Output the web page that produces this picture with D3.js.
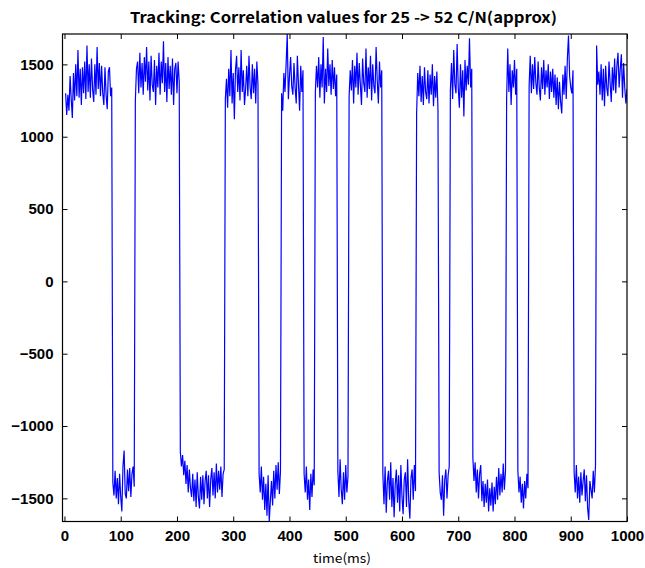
<!DOCTYPE html>
<html>
<head>
<meta charset="utf-8">
<script src="https://cdn.jsdelivr.net/npm/d3@7/dist/d3.min.js"></script>
<style>
  html, body { margin: 0; padding: 0; background: #fff; }
  svg { display: block; }
</style>
</head>
<body>
<div id="chart"></div>
<script>
// Prompt correlation output, one value every 2 ms (t = 2, 4, ..., 1000 ms),
// listed bit by bit (20 ms navigation bits, edges at 4 + 20k ms).
const corr = [
  // 2-84 ms
  1300, 1150, 1290, 1180, 1420, 1260, 1130, 1440, 1250, 1500,
  1280, 1600, 1270, 1470, 1220, 1480, 1300, 1520, 1260, 1630,
  1310, 1500, 1270, 1540, 1330, 1240, 1500, 1290, 1620, 1330,
  1510, 1280, 1490, 1300, 1220, 1480, 1290, 1190, 1450, 1480,
  1280, 1340,
  // 86-124 ms
  -1390, -1480, -1310, -1500, -1360, -1540, -1330, -1490, -1590, -1280,
  -1170, -1470, -1500, -1300, -1450, -1290, -1490, -1330, -1280, -1420,
  // 126-204 ms
  1250, 1470, 1520, 1300, 1580, 1340, 1510, 1290, 1550, 1380,
  1620, 1320, 1520, 1250, 1560, 1360, 1310, 1530, 1220, 1490,
  1340, 1580, 1290, 1520, 1370, 1660, 1310, 1510, 1240, 1550,
  1330, 1490, 1290, 1540, 1220, 1470, 1510, 1300, 1520, 1380,
  // 206-284 ms
  -1180, -1280, -1200, -1340, -1240, -1400, -1270, -1460, -1300, -1430,
  -1490, -1330, -1520, -1370, -1560, -1320, -1490, -1570, -1350, -1510,
  -1340, -1540, -1380, -1310, -1500, -1340, -1560, -1370, -1290, -1480,
  -1320, -1500, -1260, -1460, -1310, -1440, -1280, -1490, -1330, -1300,
  // 286-344 ms
  1260, 1400, 1200, 1470, 1280, 1600, 1230, 1440, 1120, 1460,
  1560, 1310, 1480, 1250, 1600, 1310, 1460, 1220, 1330, 1490,
  1280, 1560, 1340, 1260, 1500, 1300, 1470, 1230, 1520, 1360,
  // 346-384 ms
  -1330, -1460, -1280, -1510, -1350, -1580, -1400, -1620, -1340, -1660,
  -1520, -1380, -1550, -1310, -1500, -1270, -1440, -1250, -1470, -1310,
  // 386-424 ms
  1300, 1180, 1440, 1310, 1500, 1710, 1260, 1420, 1550, 1350,
  1290, 1510, 1340, 1230, 1560, 1360, 1180, 1490, 1310, 1460,
  // 426-444 ms
  -1330, -1460, -1280, -1510, -1370, -1580, -1330, -1490, -1300, -1410,
  // 446-484 ms
  1310, 1490, 1340, 1550, 1270, 1500, 1340, 1690, 1230, 1470,
  1310, 1610, 1350, 1500, 1290, 1530, 1330, 1480, 1280, 1430,
  // 486-504 ms
  -1310, -1490, -1230, -1440, -1540, -1320, -1510, -1270, -1460, -1350,
  // 506-564 ms
  1280, 1460, 1320, 1530, 1230, 1490, 1340, 1580, 1290, 1510,
  1360, 1220, 1540, 1370, 1310, 1610, 1270, 1480, 1330, 1560,
  1250, 1500, 1350, 1300, 1620, 1390, 1230, 1520, 1340, 1460,
  // 566-624 ms
  -1330, -1540, -1280, -1600, -1380, -1310, -1510, -1250, -1560, -1360,
  -1630, -1400, -1300, -1530, -1340, -1590, -1270, -1490, -1610, -1370,
  -1320, -1560, -1230, -1520, -1640, -1360, -1300, -1510, -1270, -1450,
  // 626-664 ms
  1160, 1440, 1280, 1490, 1240, 1420, 1220, 1480, 1310, 1260,
  1460, 1230, 1430, 1290, 1500, 1210, 1420, 1270, 1450, 1180,
  // 666-684 ms
  -1320, -1460, -1510, -1340, -1620, -1370, -1300, -1500, -1340, -1280,
  // 686-724 ms
  1320, 1510, 1260, 1600, 1360, 1300, 1640, 1340, 1200, 1500,
  1270, 1460, 1140, 1530, 1320, 1490, 1360, 1680, 1340, 1470,
  // 726-784 ms
  -1220, -1380, -1250, -1460, -1300, -1500, -1330, -1270, -1520, -1380,
  -1560, -1400, -1530, -1370, -1590, -1430, -1550, -1390, -1590, -1420,
  -1540, -1350, -1510, -1290, -1480, -1330, -1460, -1260, -1440, -1310,
  // 786-804 ms
  1260, 1610, 1310, 1500, 1220, 1460, 1340, 1530, 1290, 1470,
  // 806-824 ms
  -1310, -1460, -1350, -1530, -1400, -1570, -1380, -1500, -1330, -1430,
  // 826-904 ms
  1350, 1560, 1300, 1500, 1330, 1550, 1370, 1290, 1520, 1340,
  1250, 1480, 1330, 1530, 1290, 1460, 1340, 1500, 1260, 1450,
  1310, 1470, 1270, 1430, 1220, 1410, 1190, 1380, 1240, 1160,
  1430, 1290, 1490, 1260, 1540, 1700, 1420, 1340, 1300, 1460,
  // 906-944 ms
  -1320, -1460, -1270, -1500, -1350, -1530, -1320, -1480, -1380, -1300,
  -1520, -1340, -1570, -1650, -1380, -1440, -1500, -1310, -1460, -1270,
  // 946-1000 ms
  1630, 1360, 1450, 1290, 1500, 1250, 1470, 1210, 1490, 1340,
  1280, 1520, 1370, 1240, 1480, 1320, 1540, 1300, 1490, 1580,
  1340, 1470, 1570, 1270, 1510, 1340, 1230, 1330
];
const sampleStepMs = 2;

const xTicks = [0, 100, 200, 300, 400, 500, 600, 700, 800, 900, 1000];
const yTicks = [-1500, -1000, -500, 0, 500, 1000, 1500];
const xDomain = [-3.5, 1000];
const yDomain = [-1660, 1710];

const titleText = "Tracking: Correlation values for 25 -> 52 C/N(approx)";
const xLabelText = "time(ms)";

const W = 645, H = 568;
const box = { left: 62.5, right: 627, top: 34, bottom: 521.5 };

const points = corr.map((v, i) => ({ t: (i + 1) * sampleStepMs, v }));

const svg = d3.select("#chart").append("svg")
  .attr("width", W).attr("height", H)
  .style("font-family", "'Liberation Sans', Arial, sans-serif");

const x = d3.scaleLinear().domain(xDomain).range([box.left, box.right]);
const y = d3.scaleLinear().domain(yDomain).range([box.bottom, box.top]);

svg.append("defs").append("clipPath").attr("id", "plotclip")
  .append("rect")
  .attr("x", box.left).attr("y", box.top)
  .attr("width", box.right - box.left).attr("height", box.bottom - box.top);

// trace
const line = d3.line().x(d => x(d.t)).y(d => y(d.v));
svg.append("path")
  .datum(points)
  .attr("clip-path", "url(#plotclip)")
  .attr("fill", "none")
  .attr("stroke", "#0000ff")
  .attr("stroke-width", 1.2)
  .attr("d", line);

// axes with inward ticks on all four sides
const tickLen = 5;
function styleAxis(g) {
  g.select(".domain").remove();
  g.selectAll(".tick line").attr("stroke", "#000").attr("stroke-width", 1);
  g.selectAll(".tick text")
    .attr("fill", "#000")
    .style("font-size", "15px")
    .style("font-weight", "bold");
}

svg.append("g")
  .attr("transform", `translate(0,${box.bottom})`)
  .call(d3.axisBottom(x).tickValues(xTicks).tickSize(-tickLen).tickPadding(9).tickFormat(d3.format("d")))
  .call(styleAxis);

svg.append("g")
  .attr("transform", `translate(0,${box.top})`)
  .call(d3.axisTop(x).tickValues(xTicks).tickSize(-tickLen).tickFormat(""))
  .call(styleAxis);

svg.append("g")
  .attr("transform", `translate(${box.left},0)`)
  .call(d3.axisLeft(y).tickValues(yTicks).tickSize(-tickLen).tickPadding(9).tickFormat(d => d < 0 ? "\u2212" + Math.abs(d) : d))
  .call(styleAxis);

svg.append("g")
  .attr("transform", `translate(${box.right},0)`)
  .call(d3.axisRight(y).tickValues(yTicks).tickSize(-tickLen).tickFormat(""))
  .call(styleAxis);

// frame
svg.append("rect")
  .attr("x", box.left).attr("y", box.top)
  .attr("width", box.right - box.left).attr("height", box.bottom - box.top)
  .attr("fill", "none").attr("stroke", "#000").attr("stroke-width", 1.2);

// title and axis label
svg.append("text")
  .attr("x", 343.5).attr("y", 23)
  .attr("text-anchor", "middle")
  .attr("textLength", 427).attr("lengthAdjust", "spacingAndGlyphs")
  .style("font-family", "'Noto Sans CJK JP', 'Noto Sans', sans-serif")
  .style("font-size", "15px").style("font-weight", "bold")
  .text(titleText);

svg.append("text")
  .attr("x", 342).attr("y", 563)
  .attr("text-anchor", "middle")
  .attr("textLength", 58).attr("lengthAdjust", "spacingAndGlyphs")
  .style("font-family", "'Noto Sans CJK JP', 'Noto Sans', sans-serif")
  .style("font-size", "13px")
  .text(xLabelText);
</script>
</body>
</html>
